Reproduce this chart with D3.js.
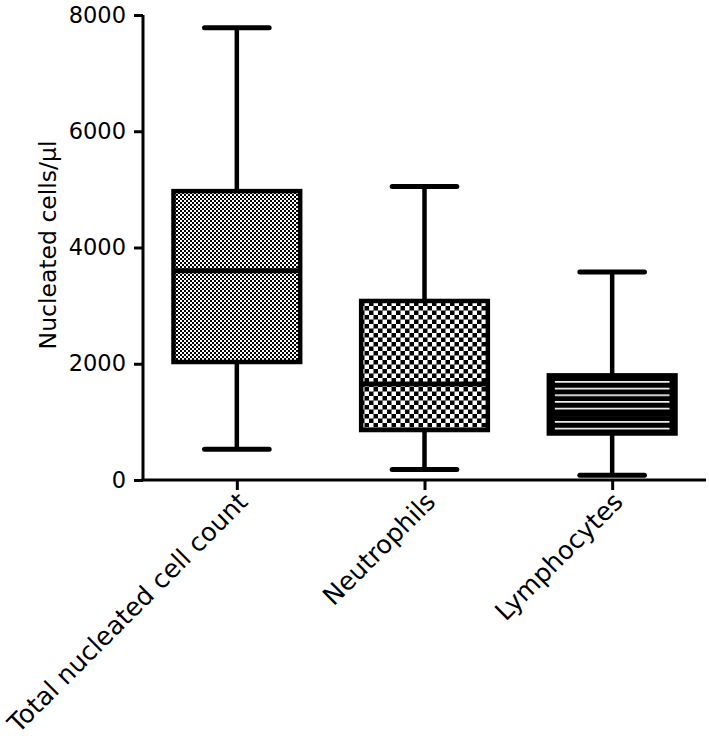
<!DOCTYPE html>
<html>
<head>
<meta charset="utf-8">
<script src="https://cdn.jsdelivr.net/npm/d3@7"></script>
<style>
  html, body { margin: 0; padding: 0; background: #fff; }
  svg { display: block; }
  text { font-family: "DejaVu Sans", sans-serif; fill: #000; }
</style>
</head>
<body>
<svg id="chart" width="709" height="738"></svg>
<script>
const categories = ["Total nucleated cell count", "Neutrophils", "Lymphocytes"];
const whiskerLow  = [530, 180, 80];
const q1Values    = [2030, 860, 800];
const medianVals  = [3600, 1650, 1130];
const q3Values    = [4970, 3080, 1800];
const whiskerHigh = [7780, 5050, 3580];
const yTicks = [0, 2000, 4000, 6000, 8000];
const yLabel = "Nucleated cells/µl";
const patterns = ["fineCheck", "coarseCheck", "hLines"];

const svg = d3.select("#chart");
const axisX = 143, axisRight = 706, yTop = 15, yBottom = 480;

const x = d3.scalePoint().domain(categories).range([axisX, axisRight]).padding(0.5);
const y = d3.scaleLinear().domain([0, 8000]).range([yBottom, yTop]);
const boxW = x.step() * 0.675;
const capW = boxW * 0.51;

// patterns
const defs = svg.append("defs");
const p1 = defs.append("pattern").attr("id", "fineCheck").attr("patternUnits", "userSpaceOnUse")
  .attr("width", 4).attr("height", 4);
p1.append("rect").attr("width", 4).attr("height", 4).attr("fill", "#000");
p1.append("rect").attr("width", 2).attr("height", 2).attr("fill", "#fff");
p1.append("rect").attr("x", 2).attr("y", 2).attr("width", 2).attr("height", 2).attr("fill", "#fff");

const p2 = defs.append("pattern").attr("id", "coarseCheck").attr("patternUnits", "userSpaceOnUse")
  .attr("width", 9).attr("height", 9);
p2.append("rect").attr("width", 9).attr("height", 9).attr("fill", "#000");
p2.append("rect").attr("width", 4.5).attr("height", 4.5).attr("fill", "#fff");
p2.append("rect").attr("x", 4.5).attr("y", 4.5).attr("width", 4.5).attr("height", 4.5).attr("fill", "#fff");

const p3 = defs.append("pattern").attr("id", "hLines").attr("patternUnits", "userSpaceOnUse")
  .attr("width", 10).attr("height", 6.67)
  .attr("y", y(q3Values[2]) + 5.7);
p3.append("rect").attr("width", 10).attr("height", 6.67).attr("fill", "#000");
p3.append("rect").attr("y", 0).attr("width", 10).attr("height", 1.6).attr("fill", "#fff");

// axes
const yAxis = d3.axisLeft(y).tickValues(yTicks).tickSize(9).tickPadding(8).tickFormat(d3.format("d"));
const gy = svg.append("g").attr("transform", `translate(${axisX},0)`).call(yAxis);
gy.select(".domain").attr("stroke", "#000").attr("stroke-width", 3).attr("d", `M0,${yTop}V${yBottom}`);
gy.selectAll(".tick line").attr("stroke", "#000").attr("stroke-width", 3);
gy.selectAll(".tick text").style("font-size", "22.5px").attr("font-family", "DejaVu Sans");

const xAxis = d3.axisBottom(x).tickSize(10).tickFormat("");
const gx = svg.append("g").attr("transform", `translate(0,${yBottom})`).call(xAxis);
gx.select(".domain").attr("stroke", "#000").attr("stroke-width", 3).attr("d", `M${axisX - 1.5},0H${axisRight}`);
gx.selectAll(".tick line").attr("stroke", "#000").attr("stroke-width", 3);

// x labels
svg.append("g").selectAll("text").data(categories).join("text")
  .attr("transform", d => `translate(${x(d) + 6},${yBottom + 17}) rotate(-45)`)
  .attr("text-anchor", "end")
  .attr("dy", "0.35em")
  .style("font-size", "25.5px")
  .text(d => d);

// y label
svg.append("text")
  .attr("transform", `translate(48,245) rotate(-90)`)
  .attr("text-anchor", "middle")
  .attr("dy", "0.35em")
  .style("font-size", "23.5px")
  .text(yLabel);

// boxes
const g = svg.append("g");
categories.forEach((c, i) => {
  const cx = x(c);
  // whiskers
  g.append("line").attr("x1", cx).attr("x2", cx).attr("y1", y(whiskerHigh[i])).attr("y2", y(q3Values[i]))
    .attr("stroke", "#000").attr("stroke-width", 4.5);
  g.append("line").attr("x1", cx).attr("x2", cx).attr("y1", y(q1Values[i])).attr("y2", y(whiskerLow[i]))
    .attr("stroke", "#000").attr("stroke-width", 4.5);
  [whiskerHigh[i], whiskerLow[i]].forEach(v => {
    g.append("line").attr("x1", cx - capW / 2).attr("x2", cx + capW / 2).attr("y1", y(v)).attr("y2", y(v))
      .attr("stroke", "#000").attr("stroke-width", 5).attr("stroke-linecap", "round");
  });
  const top = y(q3Values[i]), bot = y(q1Values[i]);
  if (patterns[i] === "hLines") {
    g.append("rect").attr("x", cx - boxW / 2).attr("y", top).attr("width", boxW).attr("height", bot - top)
      .attr("fill", "#000");
    g.append("rect").attr("x", cx - boxW / 2 + 6).attr("y", top + 3).attr("width", boxW - 12).attr("height", bot - top - 6)
      .attr("fill", "url(#hLines)");
    g.append("rect").attr("x", cx - boxW / 2).attr("y", top).attr("width", boxW).attr("height", bot - top)
      .attr("fill", "none").attr("stroke", "#000").attr("stroke-width", 4.5);
  } else {
    g.append("rect").attr("x", cx - boxW / 2).attr("y", top).attr("width", boxW).attr("height", bot - top)
      .attr("fill", `url(#${patterns[i]})`).attr("stroke", "#000").attr("stroke-width", 4.5);
  }
  g.append("line").attr("x1", cx - boxW / 2).attr("x2", cx + boxW / 2)
    .attr("y1", y(medianVals[i])).attr("y2", y(medianVals[i]))
    .attr("stroke", "#000").attr("stroke-width", 5);
});
</script>
</body>
</html>
